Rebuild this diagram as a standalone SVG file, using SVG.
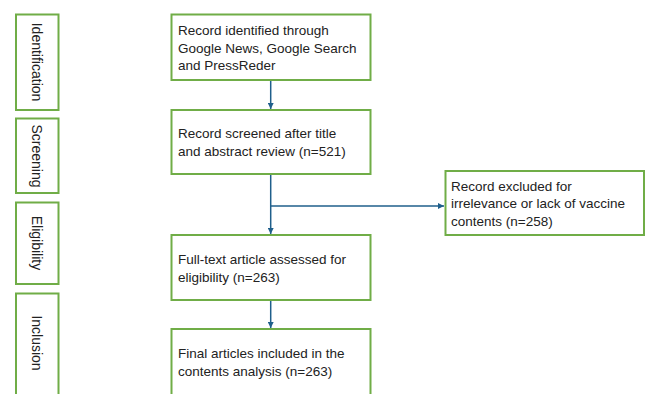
<svg xmlns="http://www.w3.org/2000/svg" width="646" height="394" viewBox="0 0 646 394">
<style>
.box{fill:#fff;stroke:#70ad47;stroke-width:2}
.t{font-family:"Liberation Sans",Arial,sans-serif;font-size:13.5px;fill:#222}
.s{font-family:"Liberation Sans",Arial,sans-serif;font-size:14px;fill:#222}
.c{fill:none;stroke:#1f5f8b;stroke-width:1.5}
</style>
<defs>
<marker id="ah" viewBox="0 0 10 10" refX="10" refY="5" markerWidth="4" markerHeight="4" orient="auto"><path d="M0,0L10,5L0,10z" fill="#1f5f8b"/></marker>
</defs>
<rect width="646" height="394" fill="#fff"/>
<g id="stage-identification"><rect class="box" x="16" y="14.5" width="42.5" height="95.5"/><text class="s" transform="translate(32,62) rotate(90)" text-anchor="middle">Identification</text></g>
<g id="stage-screening"><rect class="box" x="16" y="118.5" width="42.5" height="74.5"/><text class="s" transform="translate(32,156) rotate(90)" text-anchor="middle">Screening</text></g>
<g id="stage-eligibility"><rect class="box" x="16" y="202.5" width="42.5" height="81.5"/><text class="s" transform="translate(32,243) rotate(90)" text-anchor="middle">Eligibility</text></g>
<g id="stage-inclusion"><rect class="box" x="16" y="293.5" width="42.5" height="110"/><text class="s" transform="translate(32,343) rotate(90)" text-anchor="middle">Inclusion</text></g>
<g id="connectors">
<line class="c" x1="270.7" y1="80" x2="270.7" y2="109" marker-end="url(#ah)"/>
<line class="c" x1="270.7" y1="174" x2="270.7" y2="234" marker-end="url(#ah)"/>
<line class="c" x1="270.7" y1="206" x2="444" y2="206" marker-end="url(#ah)"/>
<line class="c" x1="270.7" y1="300" x2="270.7" y2="328" marker-end="url(#ah)"/>
</g>
<g id="n1"><rect class="box" x="171.5" y="14.5" width="199" height="65.5"/><text class="t" x="178" y="35">Record identified through</text><text class="t" x="178" y="52.7">Google News, Google Search</text><text class="t" x="178" y="70.4">and PressReder</text></g>
<g id="n2"><rect class="box" x="171.5" y="110" width="199" height="64"/><text class="t" x="178" y="138.3">Record screened after title</text><text class="t" x="178" y="156">and abstract review (n=521)</text></g>
<g id="n3"><rect class="box" x="171.5" y="235" width="199" height="65"/><text class="t" x="178" y="264.3">Full-text article assessed for</text><text class="t" x="178" y="282.3">eligibility (n=263)</text></g>
<g id="n4"><rect class="box" x="171.5" y="329" width="199" height="75"/><text class="t" x="178" y="358.3">Final articles included in the</text><text class="t" x="178" y="376">contents analysis (n=263)</text></g>
<g id="n5"><rect class="box" x="445.5" y="171" width="198.5" height="64"/><text class="t" x="451" y="190.7">Record excluded for</text><text class="t" x="451" y="208.3">irrelevance or lack of vaccine</text><text class="t" x="451" y="226">contents (n=258)</text></g>
</svg>
